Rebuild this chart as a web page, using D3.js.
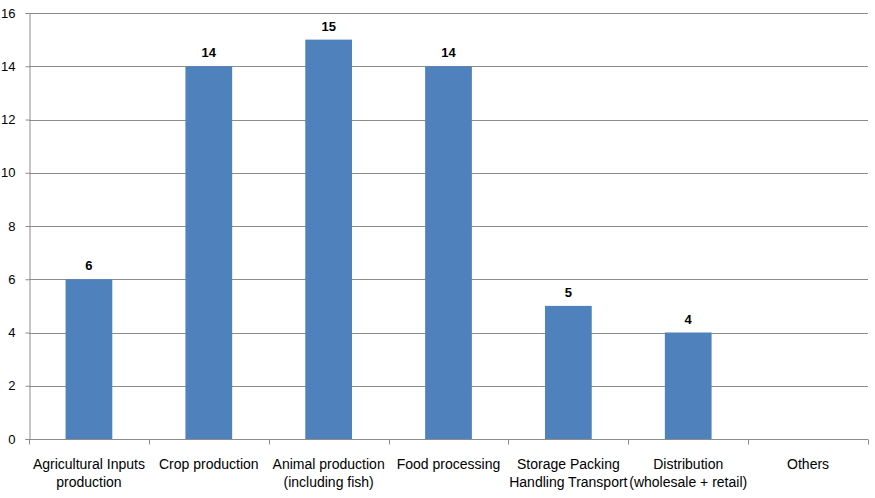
<!DOCTYPE html>
<html><head><meta charset="utf-8">
<script src="https://cdn.jsdelivr.net/npm/d3@7"></script>
<style>body{margin:0;background:#fff}svg{display:block}text{font-family:"Liberation Sans",Arial,sans-serif}</style>
</head><body>
<svg id="c" width="875" height="498"></svg>
<script>
const categories = [
  ["Agricultural Inputs","production"],
  ["Crop production"],
  ["Animal production","(including fish)"],
  ["Food processing"],
  ["Storage Packing","Handling Transport"],
  ["Distribution","(wholesale + retail)"],
  ["Others"]
];
const values = [6, 14, 15, 14, 5, 4, null];
const yTicks = [0, 2, 4, 6, 8, 10, 12, 14, 16];

const svg = d3.select("#c");
const m = {l:29, r:7, t:13, b:59};
const W = 875, H = 498;
const x = d3.scaleBand().domain(d3.range(categories.length)).range([m.l, W - m.r]).paddingInner(0).paddingOuter(0);
const y = d3.scaleLinear().domain([0, 16]).range([H - m.b, m.t]);

// gridlines
svg.append("g").selectAll("line").data(yTicks.filter(t => t > 0)).join("line")
  .attr("x1", m.l).attr("x2", W - m.r)
  .attr("y1", d => Math.round(y(d)) + 0.5).attr("y2", d => Math.round(y(d)) + 0.5)
  .attr("stroke", "#8c8c8c").attr("stroke-width", 1);

// y axis
const ya = svg.append("g").attr("transform", `translate(${m.l + 0.5},0)`)
  .call(d3.axisLeft(y).tickValues(yTicks).tickSize(4).tickPadding(10).tickFormat(d3.format("d")));
ya.select(".domain").attr("stroke", "#8c8c8c");
ya.selectAll(".tick line").attr("stroke", "#8c8c8c");
ya.selectAll("text").attr("font-size", 13).attr("fill", "#000").attr("font-family", "Liberation Sans, Arial, sans-serif");

// bars
const bw = x.bandwidth() * 0.39;
const data = values.map((v, i) => ({v, i})).filter(d => d.v != null);
svg.append("g").selectAll("rect").data(data).join("rect")
  .attr("x", d => x(d.i) + (x.bandwidth() - bw) / 2)
  .attr("width", bw)
  .attr("y", d => y(d.v))
  .attr("height", d => y(0) - y(d.v))
  .attr("fill", "#4F81BD");

// value labels
svg.append("g").selectAll("text").data(data).join("text")
  .attr("x", d => x(d.i) + x.bandwidth() / 2)
  .attr("y", d => y(d.v) - 9)
  .attr("text-anchor", "middle").attr("font-size", 13).attr("font-weight", "bold")
  .text(d => d.v);

// x axis
const xa = svg.append("g").attr("transform", `translate(0,${Math.round(y(0)) + 0.5})`);
xa.append("line").attr("x1", m.l).attr("x2", W - m.r).attr("stroke", "#8c8c8c");
const bounds = d3.range(categories.length + 1).map(i => i < categories.length ? x(i) : x(categories.length - 1) + x.bandwidth());
xa.selectAll("line.t").data(bounds).join("line").attr("class", "t")
  .attr("x1", d => Math.round(d) + 0.5).attr("x2", d => Math.round(d) + 0.5)
  .attr("y1", 0).attr("y2", 5).attr("stroke", "#8c8c8c");

const lab = svg.append("g").selectAll("text").data(categories).join("text")
  .attr("text-anchor", "middle").attr("font-size", 14).attr("fill", "#000")
  .attr("x", (d, i) => x(i) + x.bandwidth() / 2)
  .attr("y", 469);
lab.selectAll("tspan").data(d => d).join("tspan")
  .attr("x", function(){ return this.parentNode.getAttribute("x"); })
  .attr("dy", (d, j) => j === 0 ? 0 : 18)
  .text(d => d);
</script>
</body></html>
